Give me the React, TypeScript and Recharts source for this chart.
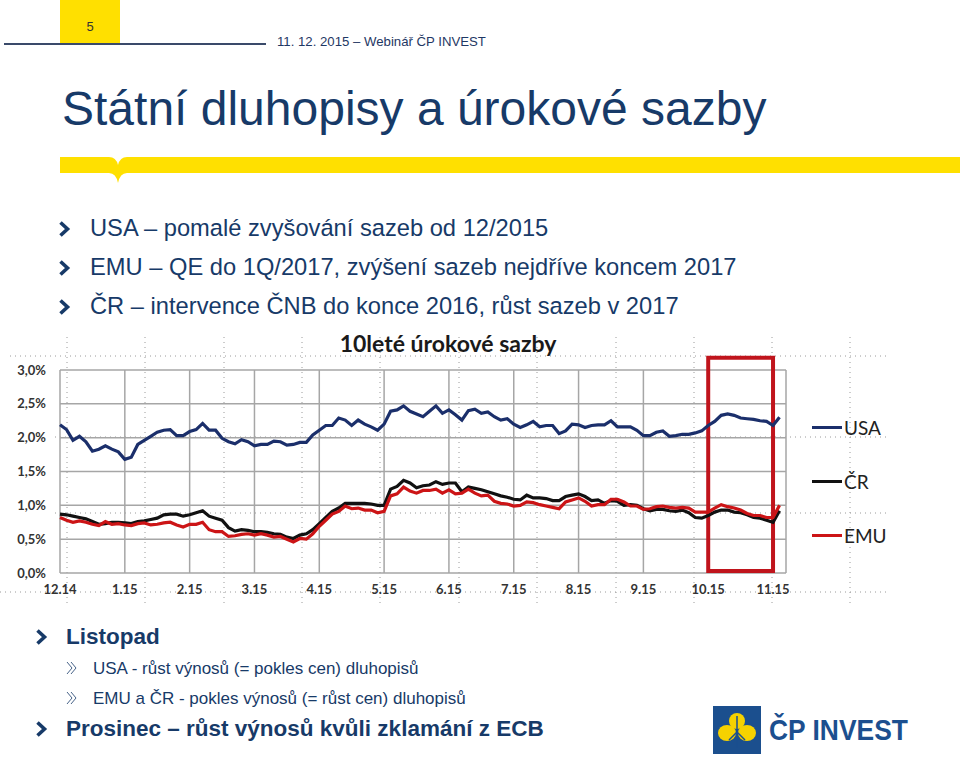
import React from "react";
import {
  LineChart,
  Line,
  XAxis,
  YAxis,
  CartesianGrid,
  ReferenceArea,
  Legend,
} from "recharts";

// month ticks on the x axis (0 = 12.14, 11 = 11.15)
const MONTHS = ["12.14", "1.15", "2.15", "3.15", "4.15", "5.15", "6.15", "7.15", "8.15", "9.15", "10.15", "11.15"];
const Y_TICKS = [0, 0.5, 1, 1.5, 2, 2.5, 3];
const STEP = 0.1; // months between samples

// 10Y yields, %
const USA = [
  2.19, 2.12, 1.96, 2.02, 1.94, 1.8, 1.83, 1.88, 1.83, 1.79,
  1.68, 1.71, 1.9, 1.96, 2.02, 2.08, 2.11, 2.12, 2.03, 2.03,
  2.09, 2.12, 2.21, 2.11, 2.11, 1.99, 1.94, 1.91, 1.97, 1.94,
  1.88, 1.9, 1.9, 1.95, 1.94, 1.89, 1.9, 1.93, 1.93, 2.04,
  2.11, 2.18, 2.18, 2.29, 2.26, 2.18, 2.26, 2.2, 2.16, 2.11,
  2.2, 2.39, 2.41, 2.47, 2.39, 2.35, 2.31, 2.39, 2.47, 2.36,
  2.41, 2.34, 2.26, 2.4, 2.42,
  2.36, 2.38, 2.31, 2.26, 2.28, 2.2, 2.15, 2.19, 2.24, 2.16,
  2.18, 2.18, 2.06, 2.1, 2.2, 2.19, 2.15, 2.18, 2.19, 2.19,
  2.25, 2.16, 2.16, 2.16, 2.11, 2.03, 2.03, 2.08, 2.1, 2.02,
  2.03, 2.05, 2.05, 2.07, 2.1, 2.18, 2.24, 2.33, 2.35, 2.33,
  2.29, 2.28, 2.27, 2.25, 2.24, 2.18, 2.3,
];

const CR = [
  0.87, 0.86, 0.84, 0.82, 0.8, 0.76, 0.72, 0.73, 0.75, 0.75,
  0.74, 0.73, 0.76, 0.77, 0.79, 0.81, 0.86, 0.87, 0.87, 0.84,
  0.86, 0.89, 0.92, 0.84, 0.81, 0.78, 0.67, 0.62, 0.64, 0.63,
  0.61, 0.61, 0.6, 0.58, 0.57, 0.53, 0.51, 0.56, 0.58, 0.64,
  0.73, 0.82, 0.91, 0.96, 1.03, 1.03, 1.03, 1.03, 1.02, 1.0,
  1.0, 1.24, 1.28, 1.37, 1.33, 1.26, 1.29, 1.3, 1.35, 1.31,
  1.33, 1.33, 1.2, 1.27, 1.25,
  1.23, 1.2, 1.17, 1.14, 1.12, 1.09, 1.08, 1.15, 1.11, 1.11,
  1.1, 1.07, 1.07, 1.13, 1.15, 1.17, 1.13, 1.07, 1.08, 1.03,
  1.07, 1.06, 1.0, 1.01, 1.0, 0.95, 0.92, 0.94, 0.94, 0.92,
  0.91, 0.93, 0.89, 0.82, 0.81, 0.85, 0.9, 0.93, 0.93, 0.9,
  0.89, 0.86, 0.82, 0.81, 0.78, 0.75, 0.92,
];

const EMU = [
  0.82, 0.78, 0.75, 0.77, 0.75, 0.72, 0.7, 0.76, 0.72, 0.73,
  0.71, 0.7, 0.73, 0.74, 0.71, 0.72, 0.74, 0.75, 0.71, 0.68,
  0.72, 0.72, 0.75, 0.64, 0.61, 0.61, 0.54, 0.55, 0.57, 0.58,
  0.56, 0.58, 0.56, 0.53, 0.54, 0.5, 0.46, 0.51, 0.5, 0.58,
  0.69, 0.78, 0.87, 0.91, 0.99, 0.95, 0.96, 0.93, 0.93, 0.89,
  0.91, 1.14, 1.17, 1.27, 1.21, 1.18, 1.22, 1.22, 1.24, 1.18,
  1.23, 1.17, 1.18, 1.24, 1.18,
  1.14, 1.15, 1.06, 1.03, 1.02, 0.99, 1.0, 1.05, 1.04, 1.01,
  0.99, 0.97, 0.95, 1.05, 1.08, 1.11, 1.06, 0.99, 1.01, 1.01,
  1.09, 1.09, 1.05, 0.99, 0.99, 0.94, 0.95, 0.98, 0.99, 0.97,
  0.96, 0.97, 0.96, 0.9, 0.9, 0.9, 0.96, 1.01, 0.98, 0.96,
  0.93, 0.88, 0.85, 0.85, 0.82, 0.82, 1.0,
];

const SERIES = [
  { key: "usa", name: "USA", color: "#1b2f6b" },
  { key: "cr", name: "ČR", color: "#111111" },
  { key: "emu", name: "EMU", color: "#cc1416" },
];

const data = USA.map((usa, i) => ({
  t: Math.round(i * STEP * 10) / 10,
  usa,
  cr: CR[i],
  emu: EMU[i],
}));

const NAVY = "#173a68";
const YELLOW = "#ffe000";
const CHART_FONT = "Lato, 'Open Sans', sans-serif";
const TICK_STYLE = { fontSize: 13, fontWeight: 700, fill: "#333", fontFamily: CHART_FONT };

const LegendBox = () => (
  <div style={{ display: "flex", flexDirection: "column", gap: 28 }}>
    {SERIES.map((s) => (
      <div key={s.key} style={{ display: "flex", alignItems: "center", height: 26 }}>
        <span style={{ display: "inline-block", width: 30, height: 3, background: s.color, marginRight: 2 }} />
        <span style={{ fontFamily: CHART_FONT, fontSize: 19, color: "#222" }}>{s.name}</span>
      </div>
    ))}
  </div>
);

const Chevron = ({ x, y }: { x: number; y: number }) => (
  <svg style={{ position: "absolute", left: x, top: y }} width={14} height={18}>
    <polyline points="2.5,2.5 9.5,9 2.5,15.5" fill="none" stroke={NAVY} strokeWidth={3.6} />
  </svg>
);

const SubChevron = ({ x, y }: { x: number; y: number }) => (
  <svg style={{ position: "absolute", left: x, top: y }} width={12} height={14}>
    <polyline points="1,1 6,7 1,13" fill="none" stroke={NAVY} strokeWidth={0.8} />
    <polyline points="5,1 10,7 5,13" fill="none" stroke={NAVY} strokeWidth={0.8} />
  </svg>
);

const text = (left: number, top: number, size: number, bold = false): React.CSSProperties => ({
  position: "absolute",
  left,
  top,
  fontSize: size,
  lineHeight: `${size}px`,
  fontWeight: bold ? 700 : 400,
  color: NAVY,
  whiteSpace: "nowrap",
});

// dotted slide guides behind the chart
const Guides = () => {
  const xs = [67, 145, 224, 302, 380, 459, 537, 616, 694, 772, 850];
  return (
    <svg style={{ position: "absolute", left: 0, top: 0 }} width={960} height={757}>
      <g stroke="#9a9a9a" strokeWidth={1} strokeDasharray="1 4">
        <line x1={10} y1={356} x2={890} y2={356} />
        <line x1={55} y1={437} x2={890} y2={437} />
        <line x1={55} y1={513} x2={890} y2={513} />
        <line x1={0} y1={592} x2={890} y2={592} />
        {xs.map((x) => (
          <line key={x} x1={x} y1={337} x2={x} y2={605} />
        ))}
      </g>
    </svg>
  );
};

export default function App() {
  return (
    <div
      style={{
        position: "absolute",
        left: 0,
        top: 0,
        width: 960,
        height: 757,
        background: "#fff",
        overflow: "hidden",
        fontFamily: "'Liberation Sans', Arial, sans-serif",
      }}
    >
      {/* header */}
      <div style={{ position: "absolute", left: 60, top: 0, width: 60, height: 44, background: YELLOW }} />
      <div style={{ ...text(60, 20, 13), width: 60, textAlign: "center", color: "#333" }}>5</div>
      <div style={{ position: "absolute", left: 4, top: 43, width: 262, height: 2, background: "#3a4a6a" }} />
      <div style={{ ...text(277, 35, 13.2), color: "#1f3864" }}>11. 12. 2015 – Webinář ČP INVEST</div>

      <div style={text(62, 85, 48)}>Státní dluhopisy a úrokové sazby</div>

      <svg style={{ position: "absolute", left: 0, top: 0 }} width={960} height={200}>
        <path
          d="M60,157 L109,157 Q116,157 118,165 Q120,157 127,157 L960,157 L960,173 L127,173 Q120,173 118,183 Q116,173 109,173 L60,173 Z"
          fill={YELLOW}
        />
      </svg>

      <Chevron x={58} y={220} />
      <div style={text(90, 217, 23.7)}>USA – pomalé zvyšování sazeb od 12/2015</div>
      <Chevron x={58} y={259} />
      <div style={text(90, 256, 23.7)}>EMU – QE do 1Q/2017, zvýšení sazeb nejdříve koncem 2017</div>
      <Chevron x={58} y={298} />
      <div style={text(90, 295, 23.7)}>ČR – intervence ČNB do konce 2016, růst sazeb v 2017</div>

      {/* chart */}
      <Guides />
      <div style={{ position: "absolute", left: 0, top: 330 }}>
        <LineChart width={960} height={290} data={data} margin={{ top: 40, right: 174, left: 15, bottom: 17 }}>
          <CartesianGrid stroke="#a6a6a6" strokeWidth={1.5} />
          <XAxis
            type="number"
            dataKey="t"
            domain={[0, 11.2]}
            ticks={MONTHS.map((_, i) => i)}
            tickFormatter={(v) => MONTHS[v]}
            interval={0}
            axisLine={false}
            tickLine={false}
            tickMargin={6}
            height={30}
            tick={TICK_STYLE}
          />
          <YAxis
            domain={[0, 3]}
            ticks={Y_TICKS}
            tickFormatter={(v) => `${v.toFixed(1).replace(".", ",")}%`}
            width={45}
            axisLine={false}
            tickLine={false}
            tickMargin={8}
            tick={TICK_STYLE}
          />
          {SERIES.map((s) => (
            <Line
              key={s.key}
              type="linear"
              dataKey={s.key}
              name={s.name}
              stroke={s.color}
              strokeWidth={3.2}
              dot={false}
              isAnimationActive={false}
            />
          ))}
          <ReferenceArea
            x1={10}
            x2={11}
            y1={0.03}
            y2={3.18}
            ifOverflow="visible"
            fill="none"
            fillOpacity={0}
            stroke="#c0141c"
            strokeWidth={4}
          />
          <Legend
            layout="vertical"
            align="center"
            verticalAlign="middle"
            content={<LegendBox />}
            wrapperStyle={{ left: 812, top: 84, width: 120 }}
          />
        </LineChart>
      </div>
      <div
        style={{
          position: "absolute",
          left: 300,
          top: 332,
          width: 296,
          textAlign: "center",
          fontFamily: CHART_FONT,
          fontSize: 23,
          lineHeight: "23px",
          fontWeight: 700,
          color: "#1a1a1a",
        }}
      >
        10leté úrokové sazby
      </div>

      {/* bottom notes */}
      <Chevron x={35} y={628} />
      <div style={text(66, 626, 22.5, true)}>Listopad</div>
      <SubChevron x={66} y={661} />
      <div style={text(93, 660, 17)}>USA - růst výnosů (= pokles cen) dluhopisů</div>
      <SubChevron x={66} y={691} />
      <div style={text(93, 690, 17)}>EMU a ČR - pokles výnosů (= růst cen) dluhopisů</div>
      <Chevron x={35} y={720} />
      <div style={text(66, 718, 22.5, true)}>Prosinec – růst výnosů kvůli zklamání z ECB</div>

      {/* logo */}
      <svg style={{ position: "absolute", left: 713, top: 706 }} width={48} height={48}>
        <rect x={0} y={0} width={48} height={48} fill="#1b4f8e" />
        <ellipse cx={24} cy={15} rx={8} ry={8} fill="#f6d200" />
        <ellipse cx={14} cy={27} rx={9} ry={8} fill="#f6d200" />
        <ellipse cx={34} cy={27} rx={9} ry={8} fill="#f6d200" />
        <path d="M24,10 L24,42 M24,26 L16,34 M24,26 L32,34" stroke="#1b4f8e" strokeWidth={1.5} fill="none" />
      </svg>
      <div
        style={{
          ...text(769, 715, 30, true),
          color: "#1c4f8f",
          transform: "scaleX(0.88)",
          transformOrigin: "left center",
        }}
      >
        ČP INVEST
      </div>
    </div>
  );
}
